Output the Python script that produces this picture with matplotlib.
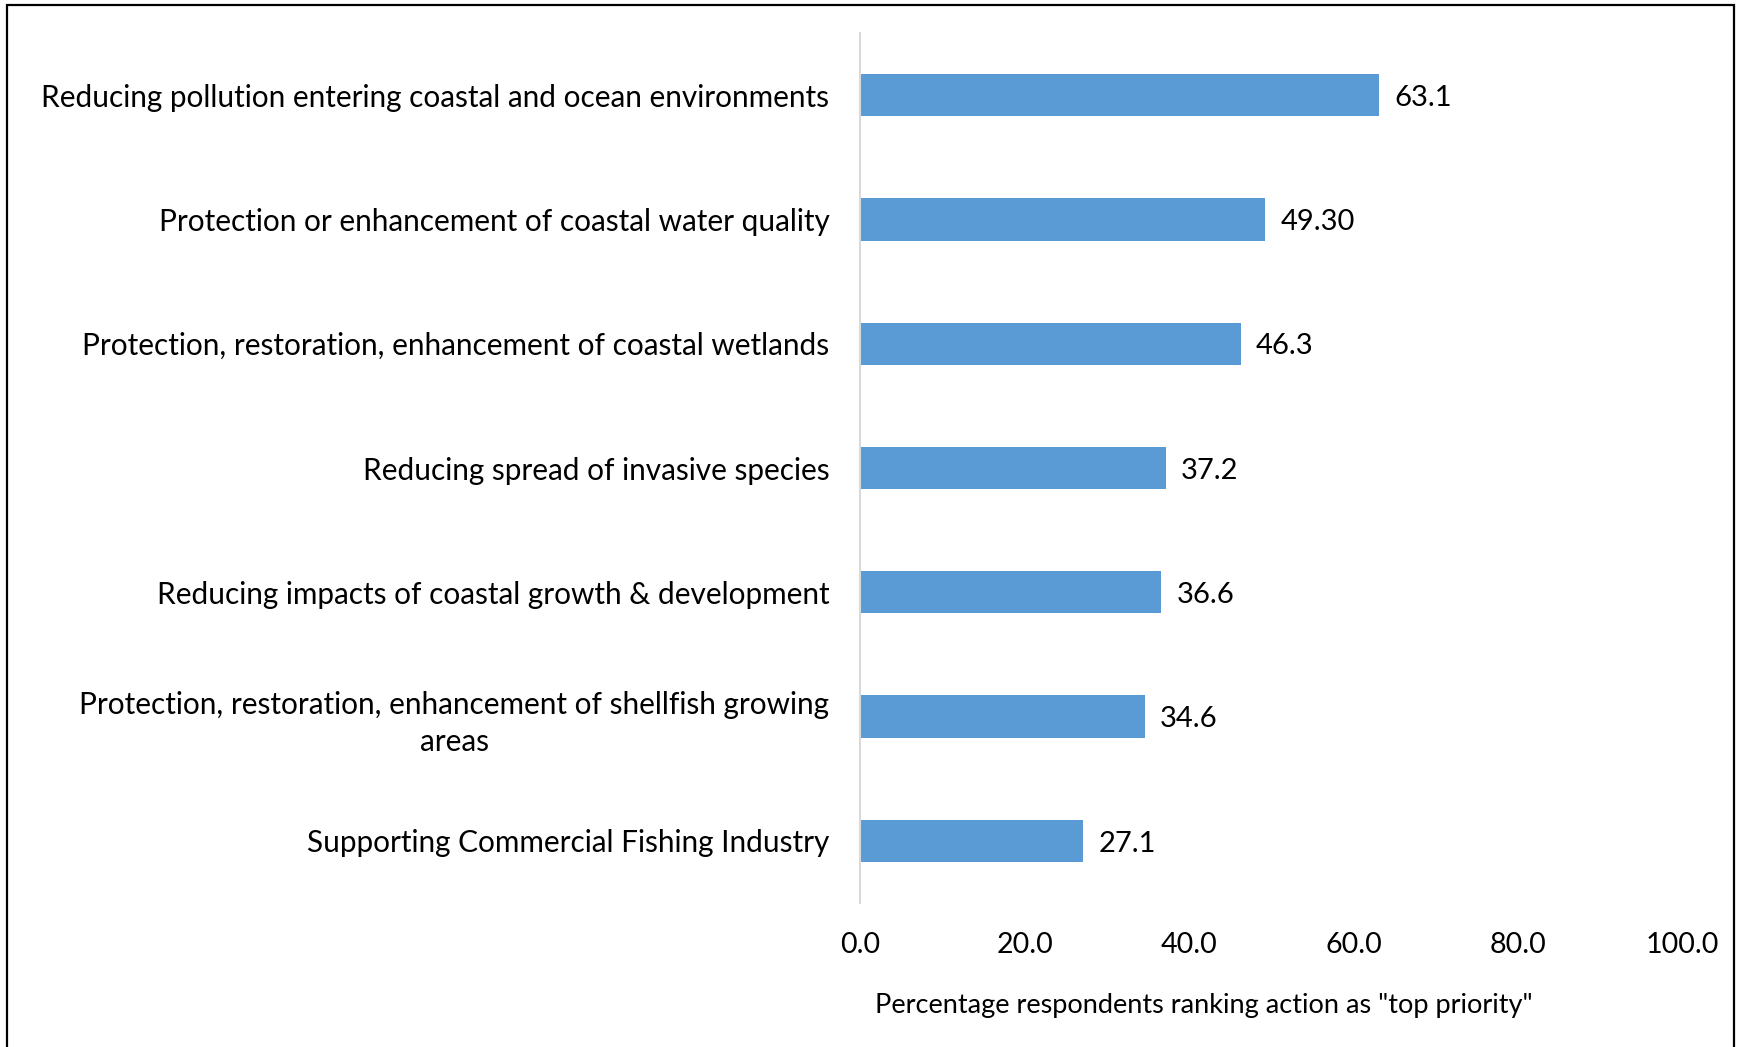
import matplotlib
matplotlib.use("Agg")
import matplotlib.pyplot as plt
from matplotlib.patches import Rectangle

plt.rcParams['font.family'] = ['Lato', 'DejaVu Sans']

categories = [
    "Reducing pollution entering coastal and ocean environments",
    "Protection or enhancement of coastal water quality",
    "Protection, restoration, enhancement of coastal wetlands",
    "Reducing spread of invasive species",
    "Reducing impacts of coastal growth & development",
    "Protection, restoration, enhancement of shellfish growing\nareas",
    "Supporting Commercial Fishing Industry",
]
values = [63.1, 49.30, 46.3, 37.2, 36.6, 34.6, 27.1]
value_labels = ["63.1", "49.30", "46.3", "37.2", "36.6", "34.6", "27.1"]
x_ticks = [0, 20, 40, 60, 80, 100]
x_tick_labels = ["0.0", "20.0", "40.0", "60.0", "80.0", "100.0"]
x_label = 'Percentage respondents ranking action as "top priority"'

W, H = 1737, 1047
fig = plt.figure(figsize=(W / 100, H / 100), dpi=100)
fig.patch.set_facecolor("white")

ax = fig.add_axes([860 / W, 1 - 903 / H, (1682.5 - 860) / W, (903 - 33) / H])

pos = list(range(len(categories)))
ax.barh(pos, values, height=0.34, color="#5B9BD5", zorder=2)
ax.set_ylim(len(categories) - 0.5, -0.5)
ax.set_xlim(0, 100)

for p, v, lab in zip(pos, values, value_labels):
    ax.annotate(lab, xy=(v, p), xytext=(11, -2), textcoords="offset points",
                ha="left", va="center", fontsize=21, color="#000000")

ax.set_yticks(pos)
ax.set_yticklabels(categories, fontsize=21.4, multialignment="center",
                   linespacing=1.4)
ax.tick_params(axis="y", length=0, pad=22)
ax.set_xticks(x_ticks)
ax.set_xticklabels(x_tick_labels, fontsize=20.6)
ax.tick_params(axis="x", length=0, pad=21)

for side in ("top", "right", "bottom"):
    ax.spines[side].set_visible(False)
ax.spines["left"].set_color("#D9D9D9")
ax.spines["left"].set_linewidth(1.5)

fig.text(1204 / W, 1 - 1006 / H, x_label, ha="center", va="center", fontsize=19.5)

fig.add_artist(Rectangle((7 / W, -0.02), (1734 - 7) / W, 1 - 5 / H + 0.02,
                         transform=fig.transFigure, fill=False,
                         edgecolor="black", linewidth=1.6))

fig.savefig("out.png", dpi=100)
